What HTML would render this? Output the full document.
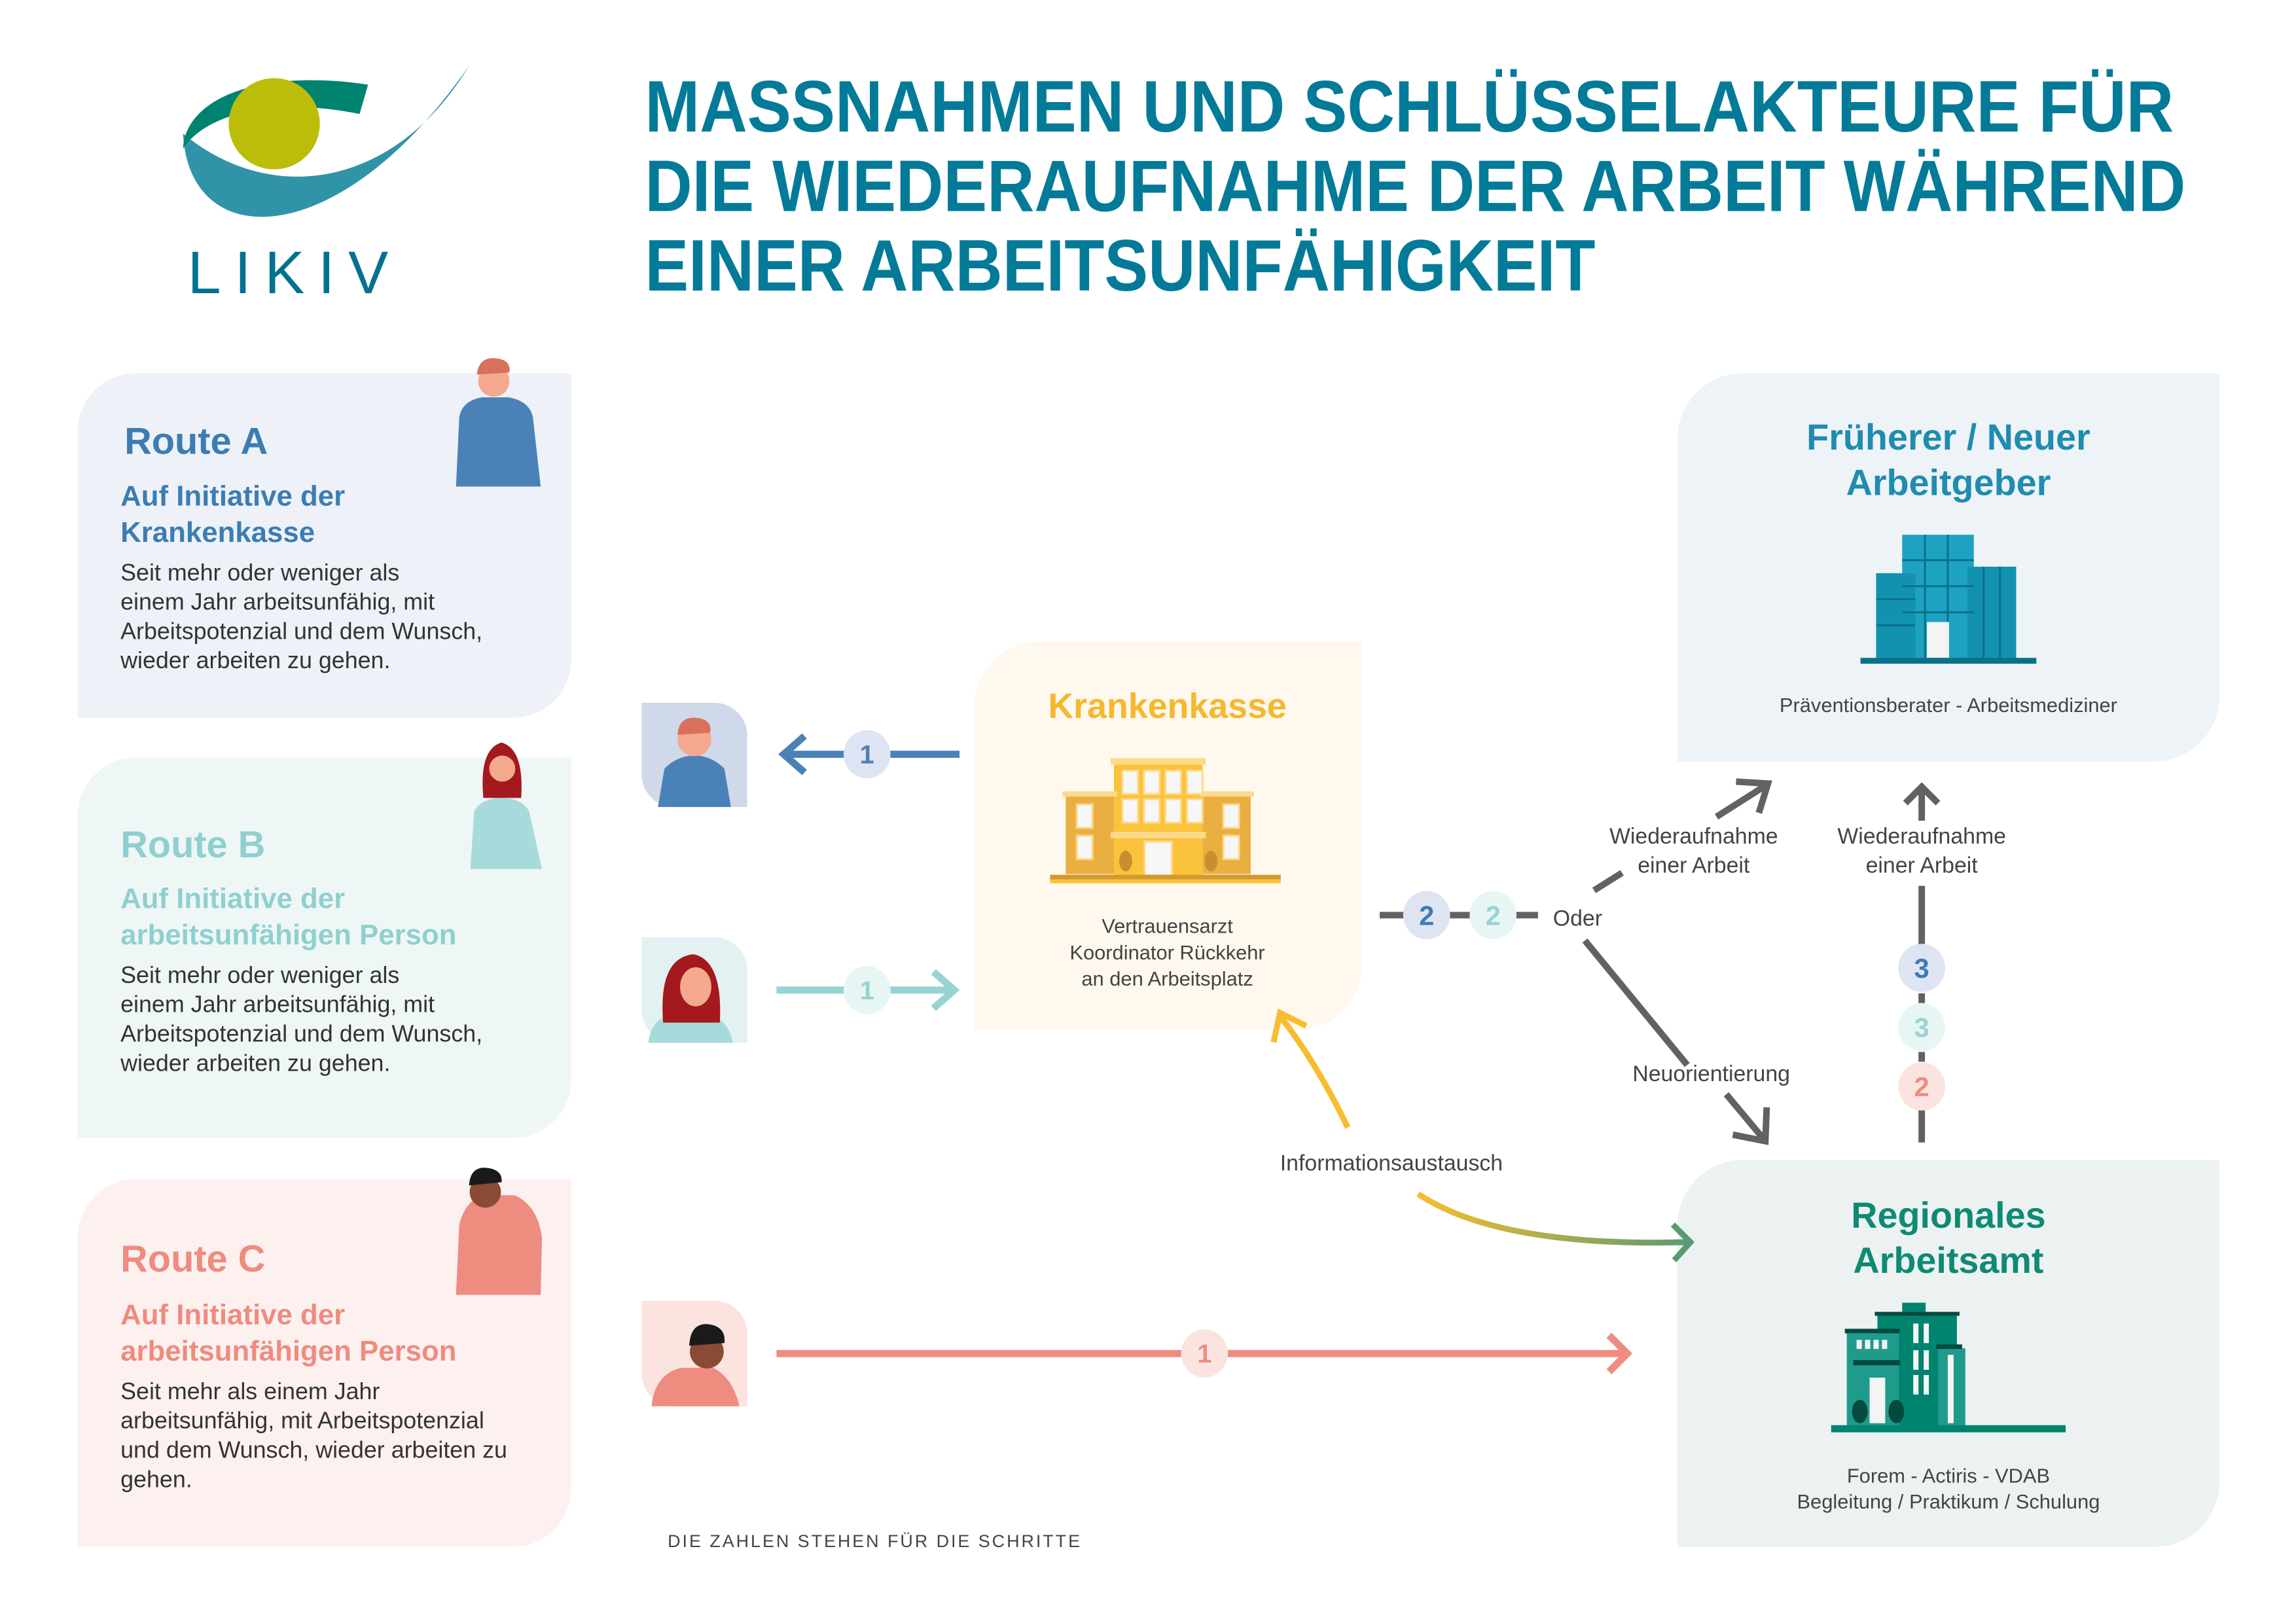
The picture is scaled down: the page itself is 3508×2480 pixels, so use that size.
<!DOCTYPE html>
<html><head><meta charset="utf-8"><style>
html,body{margin:0;padding:0;background:#fff;}
svg{display:block;}
text{font-family:"Liberation Sans",sans-serif;}
</style></head><body>
<svg width="3508" height="2480" viewBox="0 0 3508 2480" xmlns="http://www.w3.org/2000/svg">
<defs>
<linearGradient id="g1" x1="2177" y1="0" x2="2597" y2="0" gradientUnits="userSpaceOnUse">
<stop offset="0" stop-color="#f7bd2f"/><stop offset="1" stop-color="#5a9a72"/></linearGradient>
</defs>
<g transform="scale(0.9953)">
<!-- Logo -->
<path d="M281,205 C290,390 520,390 720,101 C610,285 420,320 281,205 Z" fill="#3193a8"/>
<path d="M281,228 C285,150 400,105 565,130 L552,175 C430,150 320,170 281,228 Z" fill="#00836f"/>
<circle cx="421" cy="190" r="70" fill="#bcbd09"/>
<text x="288" y="450" font-size="92" fill="#00728f" textLength="308" lengthAdjust="spacing">LIKIV</text>
<!-- Title -->
<g font-weight="bold" font-size="112" fill="#037b98">
<text x="990" y="202" textLength="2347" lengthAdjust="spacingAndGlyphs">MASSNAHMEN UND SCHLÜSSELAKTEURE FÜR</text>
<text x="990" y="324" textLength="2365" lengthAdjust="spacingAndGlyphs">DIE WIEDERAUFNAHME DER ARBEIT WÄHREND</text>
<text x="990" y="446" textLength="1459" lengthAdjust="spacingAndGlyphs">EINER ARBEITSUNFÄHIGKEIT</text>
</g>
<!-- Route boxes -->
<path d="M209,573 H877 V1012 A90,90 0 0 1 787,1102 H119 V663 A90,90 0 0 1 209,573 Z" fill="#eef1f8"/>
<path d="M209,1163 H877 V1657 A90,90 0 0 1 787,1747 H119 V1253 A90,90 0 0 1 209,1163 Z" fill="#eef7f6"/>
<path d="M209,1810 H877 V2285 A90,90 0 0 1 787,2375 H119 V1900 A90,90 0 0 1 209,1810 Z" fill="#fdf1f0"/>
<g font-size="36" fill="#333">
<text x="191" y="697" font-size="58" font-weight="bold" fill="#3b7db3">Route A</text>
<text x="185" y="776" font-size="44" font-weight="bold" fill="#3b7db3">Auf Initiative der</text>
<text x="185" y="832" font-size="44" font-weight="bold" fill="#3b7db3">Krankenkasse</text>
<text x="185" y="891">Seit mehr oder weniger als</text>
<text x="185" y="936">einem Jahr arbeitsunfähig, mit</text>
<text x="185" y="981">Arbeitspotenzial und dem Wunsch,</text>
<text x="185" y="1026">wieder arbeiten zu gehen.</text>
<text x="185" y="1316" font-size="58" font-weight="bold" fill="#8fd0cf">Route B</text>
<text x="185" y="1394" font-size="44" font-weight="bold" fill="#8fd0cf">Auf Initiative der</text>
<text x="185" y="1450" font-size="44" font-weight="bold" fill="#8fd0cf">arbeitsunfähigen Person</text>
<text x="185" y="1509">Seit mehr oder weniger als</text>
<text x="185" y="1554">einem Jahr arbeitsunfähig, mit</text>
<text x="185" y="1599">Arbeitspotenzial und dem Wunsch,</text>
<text x="185" y="1644">wieder arbeiten zu gehen.</text>
<text x="185" y="1952" font-size="58" font-weight="bold" fill="#ef8b7f">Route C</text>
<text x="185" y="2033" font-size="44" font-weight="bold" fill="#ef8b7f">Auf Initiative der</text>
<text x="185" y="2089" font-size="44" font-weight="bold" fill="#ef8b7f">arbeitsunfähigen Person</text>
<text x="185" y="2148">Seit mehr als einem Jahr</text>
<text x="185" y="2193">arbeitsunfähig, mit Arbeitspotenzial</text>
<text x="185" y="2238">und dem Wunsch, wieder arbeiten zu</text>
<text x="185" y="2283">gehen.</text>
</g>
<!-- People in boxes -->
<g>
<path d="M700,747 L705,640 Q710,615 740,610 L780,610 Q812,615 818,640 L830,747 Z" fill="#4a82b8"/>
<circle cx="758" cy="585" r="24" fill="#f4a98f"/><path d="M732,575 Q735,548 760,550 Q785,552 782,572 Z" fill="#d9705b"/>
<path d="M722,1334 L728,1245 Q740,1225 770,1225 Q800,1225 812,1245 L832,1334 Z" fill="#a7dadb"/>
<path d="M742,1225 Q735,1150 770,1140 Q805,1150 800,1225 Z" fill="#a3191d"/><circle cx="771" cy="1180" r="20" fill="#f4a98f"/>
<path d="M700,1988 L705,1880 Q715,1840 745,1835 L790,1835 Q825,1850 832,1900 L830,1988 Z" fill="#ef8c80"/>
<circle cx="745" cy="1830" r="24" fill="#8b4a35"/><path d="M720,1820 Q722,1790 748,1793 Q772,1796 770,1815 Z" fill="#1a1a1a"/>
</g>
<!-- avatar tiles -->
<path d="M985,1079 H1097 A50,50 0 0 1 1147,1129 V1239 H1035 A50,50 0 0 1 985,1189 Z" fill="#cfd9ea"/>
<path d="M1010,1239 L1020,1180 Q1040,1160 1066,1160 Q1092,1160 1112,1180 L1122,1239 Z" fill="#4a82b8"/>
<circle cx="1066" cy="1135" r="26" fill="#f4a98f"/><path d="M1040,1128 Q1042,1100 1068,1102 Q1094,1104 1090,1125 Z" fill="#d9705b"/>
<path d="M985,1439 H1097 A50,50 0 0 1 1147,1489 V1601 H1035 A50,50 0 0 1 985,1551 Z" fill="#e2f1f2"/>
<path d="M995,1601 Q1000,1560 1040,1555 L1090,1555 Q1120,1570 1125,1601 Z" fill="#a7dadb"/>
<path d="M1018,1570 Q1010,1470 1065,1465 Q1110,1475 1105,1570 Z" fill="#a3191d"/><ellipse cx="1068" cy="1515" rx="24" ry="30" fill="#f4a98f"/>
<path d="M985,1997 H1097 A50,50 0 0 1 1147,2047 V2159 H1035 A50,50 0 0 1 985,2109 Z" fill="#fbe3e0"/>
<path d="M1000,2159 Q1005,2110 1045,2100 L1095,2100 Q1125,2115 1135,2159 Z" fill="#ef8c80"/>
<circle cx="1085" cy="2075" r="26" fill="#8b4a35"/><path d="M1058,2066 Q1060,2030 1088,2033 Q1115,2037 1112,2062 Z" fill="#1a1a1a"/>
<!-- Route arrows -->
<g stroke-width="11" fill="none">
<line x1="1473" y1="1158" x2="1205" y2="1158" stroke="#4a82b8"/>
<polyline points="1235,1130 1203,1158 1235,1186" stroke="#4a82b8"/>
<line x1="1192" y1="1520" x2="1465" y2="1520" stroke="#98d3d4"/>
<polyline points="1433,1492 1465,1520 1433,1548" stroke="#98d3d4"/>
<line x1="1192" y1="2078" x2="2495" y2="2078" stroke="#ef8c80"/>
<polyline points="2470,2050 2498,2078 2470,2106" stroke="#ef8c80"/>
</g>
<g font-size="40" font-weight="bold" text-anchor="middle">
<ellipse cx="1331" cy="1158" rx="36" ry="37" fill="#dfe4f3"/><text x="1331" y="1172" fill="#4a82b8">1</text>
<ellipse cx="1331" cy="1520" rx="36" ry="37" fill="#e8f5f5"/><text x="1331" y="1534" fill="#98d3d4">1</text>
<ellipse cx="1849" cy="2078" rx="36" ry="37" fill="#fbe3e0"/><text x="1849" y="2092" fill="#ef8c80">1</text>
</g>
<!-- Krankenkasse box -->
<path d="M1595,985 H2091 V1481 A100,100 0 0 1 1991,1581 H1495 V1085 A100,100 0 0 1 1595,985 Z" fill="#fef8ee"/>
<text x="1792" y="1102" font-size="54" font-weight="bold" fill="#f5b82e" text-anchor="middle">Krankenkasse</text>
<g>
<rect x="1705" y="1164" width="146" height="10" fill="#fdd98a"/>
<rect x="1710" y="1174" width="136" height="170" fill="#fbc33b"/>
<rect x="1636" y="1222" width="74" height="120" fill="#e9b041"/><rect x="1846" y="1222" width="74" height="120" fill="#e9b041"/>
<rect x="1631" y="1215" width="84" height="8" fill="#fdd98a"/><rect x="1841" y="1215" width="84" height="8" fill="#fdd98a"/>
<rect x="1705" y="1277" width="146" height="10" fill="#fdd98a"/>
<g fill="#f7f7f7" stroke="#fdd98a" stroke-width="3">
<rect x="1723" y="1183" width="24" height="36"/><rect x="1756" y="1183" width="24" height="36"/><rect x="1789" y="1183" width="24" height="36"/><rect x="1822" y="1183" width="24" height="36"/>
<rect x="1723" y="1227" width="24" height="36"/><rect x="1756" y="1227" width="24" height="36"/><rect x="1789" y="1227" width="24" height="36"/><rect x="1822" y="1227" width="24" height="36"/>
<rect x="1653" y="1235" width="24" height="36"/><rect x="1653" y="1283" width="24" height="36"/>
<rect x="1878" y="1235" width="24" height="36"/><rect x="1878" y="1283" width="24" height="36"/>
<rect x="1757" y="1292" width="42" height="52"/>
</g>
<ellipse cx="1728" cy="1322" rx="10" ry="16" fill="#c88f2e"/><ellipse cx="1859" cy="1322" rx="10" ry="16" fill="#c88f2e"/>
<rect x="1612" y="1343" width="354" height="10" fill="#d29a2e"/><rect x="1612" y="1350" width="354" height="6" fill="#fbc33b"/>
</g>
<g font-size="31" fill="#444" text-anchor="middle">
<text x="1792" y="1432">Vertrauensarzt</text>
<text x="1792" y="1473">Koordinator Rückkehr</text>
<text x="1792" y="1513">an den Arbeitsplatz</text>
</g>
<!-- Employer box -->
<path d="M2675,573 H3407 V1069 A100,100 0 0 1 3307,1169 H2575 V673 A100,100 0 0 1 2675,573 Z" fill="#eef3f7"/>
<g font-size="56" font-weight="bold" fill="#1f8cb0" text-anchor="middle">
<text x="2991" y="690">Früherer / Neuer</text><text x="2991" y="760">Arbeitgeber</text></g>
<g>
<rect x="2920" y="821" width="110" height="195" fill="#1da3c1"/>
<rect x="2880" y="880" width="60" height="136" fill="#1392b0"/>
<rect x="3020" y="870" width="75" height="146" fill="#1392b0"/>
<g stroke="#0b7089" stroke-width="3">
<line x1="2920" y1="860" x2="3030" y2="860"/><line x1="2920" y1="900" x2="3030" y2="900"/><line x1="2920" y1="940" x2="3030" y2="940"/>
<line x1="2955" y1="821" x2="2955" y2="1016"/><line x1="2990" y1="821" x2="2990" y2="1016"/>
<line x1="3045" y1="870" x2="3045" y2="1016"/><line x1="3070" y1="870" x2="3070" y2="1016"/>
<line x1="2880" y1="920" x2="2940" y2="920"/><line x1="2880" y1="960" x2="2940" y2="960"/></g>
<rect x="2958" y="955" width="34" height="55" fill="#f4f4f4"/>
<rect x="2856" y="1010" width="270" height="9" fill="#0b7089"/>
</g>
<text x="2991" y="1093" font-size="31" fill="#444" text-anchor="middle">Präventionsberater - Arbeitsmediziner</text>
<!-- Regional box -->
<path d="M2675,1781 H3407 V2275 A100,100 0 0 1 3307,2375 H2575 V1881 A100,100 0 0 1 2675,1781 Z" fill="#ecf2f2"/>
<g font-size="56" font-weight="bold" fill="#0f8a74" text-anchor="middle">
<text x="2991" y="1885">Regionales</text><text x="2991" y="1954">Arbeitsamt</text></g>
<g>
<rect x="2920" y="2000" width="36" height="14" fill="#00836f"/>
<rect x="2878" y="2014" width="130" height="6" fill="#054a3f"/>
<rect x="2882" y="2020" width="122" height="170" fill="#00836f"/>
<rect x="2832" y="2040" width="84" height="7" fill="#054a3f"/>
<rect x="2835" y="2047" width="80" height="143" fill="#1f9b8c"/>
<rect x="2845" y="2088" width="72" height="8" fill="#054a3f"/>
<rect x="2975" y="2070" width="42" height="120" fill="#1f9b8c"/>
<rect x="2972" y="2064" width="40" height="7" fill="#054a3f"/>
<g fill="#f4f4f4"><rect x="2850" y="2057" width="8" height="14"/><rect x="2863" y="2057" width="8" height="14"/><rect x="2876" y="2057" width="8" height="14"/><rect x="2889" y="2057" width="8" height="14"/>
<rect x="2937" y="2032" width="8" height="30"/><rect x="2953" y="2032" width="8" height="30"/><rect x="2937" y="2073" width="8" height="30"/><rect x="2953" y="2073" width="8" height="30"/><rect x="2937" y="2111" width="8" height="30"/><rect x="2953" y="2111" width="8" height="30"/>
<rect x="2990" y="2080" width="9" height="105"/><rect x="2870" y="2115" width="24" height="70"/></g>
<ellipse cx="2855" cy="2167" rx="12" ry="18" fill="#054a3f"/><ellipse cx="2911" cy="2167" rx="12" ry="18" fill="#054a3f"/>
<rect x="2811" y="2188" width="360" height="11" fill="#00836f"/>
</g>
<g font-size="31" fill="#444" text-anchor="middle">
<text x="2991" y="2276">Forem - Actiris - VDAB</text>
<text x="2991" y="2316">Begleitung / Praktikum / Schulung</text>
</g>
<!-- Middle connectors -->
<g stroke="#626262" stroke-width="10" fill="none">
<line x1="2118" y1="1405" x2="2155" y2="1405"/><line x1="2225" y1="1405" x2="2257" y2="1405"/><line x1="2327" y1="1405" x2="2361" y2="1405"/>
<line x1="2447" y1="1367" x2="2490" y2="1340"/>
<line x1="2635" y1="1254" x2="2712" y2="1205"/>
<polyline points="2665,1200 2714,1203 2700,1248"/>
<line x1="2433" y1="1444" x2="2590" y2="1635"/>
<line x1="2650" y1="1680" x2="2706" y2="1747"/>
<polyline points="2660,1742 2710,1752 2712,1700"/>
<line x1="2950" y1="1754" x2="2950" y2="1700"/>
<line x1="2950" y1="1630" x2="2950" y2="1615"/>
<line x1="2950" y1="1540" x2="2950" y2="1525"/>
<line x1="2950" y1="1450" x2="2950" y2="1360"/>
<line x1="2950" y1="1260" x2="2950" y2="1210"/>
<polyline points="2925,1233 2950,1208 2975,1233"/>
</g>
<g font-size="42" font-weight="bold" text-anchor="middle">
<ellipse cx="2190" cy="1405" rx="36" ry="37" fill="#dfe4f3"/><text x="2190" y="1420" fill="#3b7db3">2</text>
<ellipse cx="2292" cy="1405" rx="36" ry="37" fill="#e8f5f5"/><text x="2292" y="1420" fill="#98d3d4">2</text>
<ellipse cx="2950" cy="1486" rx="36" ry="37" fill="#dfe4f3"/><text x="2950" y="1501" fill="#3b7db3">3</text>
<ellipse cx="2950" cy="1577" rx="36" ry="37" fill="#e8f5f5"/><text x="2950" y="1592" fill="#98d3d4">3</text>
<ellipse cx="2950" cy="1668" rx="36" ry="37" fill="#fbe3e0"/><text x="2950" y="1683" fill="#ef8c80">2</text>
</g>
<g font-size="34" fill="#444">
<text x="2384" y="1421">Oder</text>
<text x="2600" y="1295" text-anchor="middle">Wiederaufnahme</text>
<text x="2600" y="1340" text-anchor="middle">einer Arbeit</text>
<text x="2950" y="1295" text-anchor="middle">Wiederaufnahme</text>
<text x="2950" y="1340" text-anchor="middle">einer Arbeit</text>
<text x="2627" y="1660" text-anchor="middle">Neuorientierung</text>
<text x="2136" y="1797" text-anchor="middle">Informationsaustausch</text>
</g>
<!-- Yellow curves -->
<path d="M2069,1731 Q2020,1630 1965,1560" stroke="#f7bd2f" stroke-width="9" fill="none"/>
<polyline points="1955,1600 1965,1555 2005,1575" stroke="#f7bd2f" stroke-width="9" fill="none"/>
<path d="M2177,1833 Q2300,1915 2590,1907" stroke="url(#g1)" stroke-width="9" fill="none"/>
<polyline points="2568,1880 2595,1907 2570,1935" stroke="#5a9a72" stroke-width="9" fill="none"/>
<!-- Footnote -->
<text x="1025" y="2375" font-size="27" fill="#444" letter-spacing="3">DIE ZAHLEN STEHEN FÜR DIE SCHRITTE</text>
</g>
</svg>
</body></html>
